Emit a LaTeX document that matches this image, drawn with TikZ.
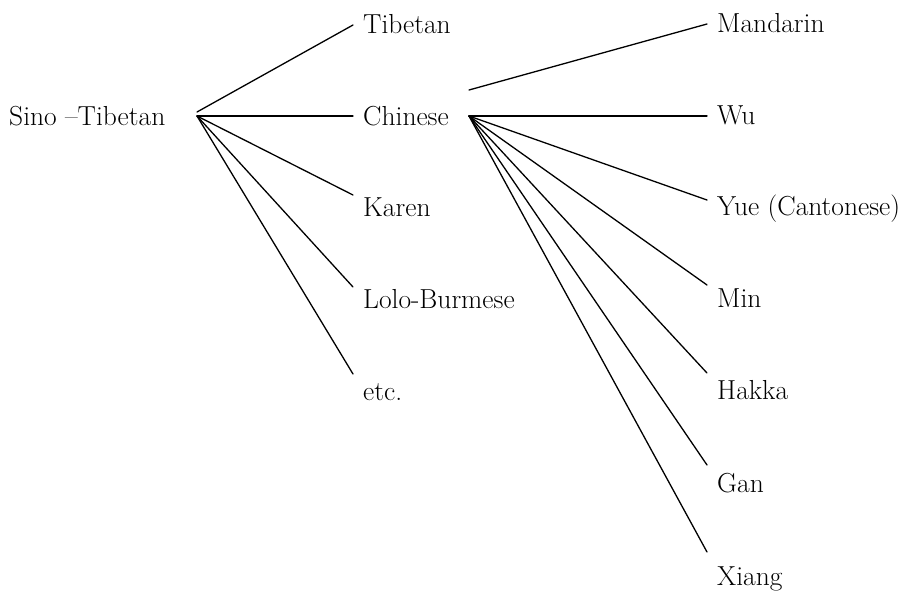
\documentclass[tikz,border=0pt]{standalone}
\usepackage{fontspec}
\begin{document}
\begin{tikzpicture}[x=1pt,y=-1pt,
  lab/.style={anchor=base west,inner sep=0pt,font=\fontsize{27.5}{32}\selectfont},
  br/.style={line width=1.3pt,line cap=round}]
\useasboundingbox (0,0) rectangle (917,592);
% labels
\node[lab] (st) at (9,125) {Sino --Tibetan};
\node[lab] (tib) at (363,33) {Tibetan};
\node[lab] (chi) at (363,125) {Chinese};
\node[lab] (kar) at (363,216) {Karen};
\node[lab] (lolo) at (363,308) {Lolo-Burmese};
\node[lab] (etc) at (363,400) {etc.};
\node[lab] (man) at (717,32) {Mandarin};
\node[lab] (wu) at (717,124) {Wu};
\node[lab] (yue) at (717,215) {Yue (Cantonese)};
\node[lab] (min) at (717,307) {Min};
\node[lab] (hak) at (717,399) {Hakka};
\node[lab] (gan) at (717,492) {Gan};
\node[lab] (xia) at (717,585) {Xiang};
% branching points
\coordinate (stA) at (197,112);
\coordinate (stB) at (197,116);
\coordinate (chA) at (469,90);
\coordinate (chB) at (469,116);
% line ends
\coordinate (eTib) at (353,25);
\coordinate (eChi) at (353,116);
\coordinate (eKar) at (353,195);
\coordinate (eLolo) at (353,287);
\coordinate (eEtc) at (353,374);
\coordinate (eMan) at (707,24);
\coordinate (eWu) at (707,116);
\coordinate (eYue) at (707,200);
\coordinate (eMin) at (707,285);
\coordinate (eHak) at (707,373);
\coordinate (eGan) at (707,465);
\coordinate (eXia) at (707,552);
% connectors
\draw[br] (stA) -- (eTib);
\draw[br] (stB) -- (eChi);
\draw[br] (stB) -- (eKar);
\draw[br] (stB) -- (eLolo);
\draw[br] (stB) -- (eEtc);
\draw[br] (chA) -- (eMan);
\draw[br] (chB) -- (eWu);
\draw[br] (chB) -- (eYue);
\draw[br] (chB) -- (eMin);
\draw[br] (chB) -- (eHak);
\draw[br] (chB) -- (eGan);
\draw[br] (chB) -- (eXia);
\end{tikzpicture}
\end{document}
